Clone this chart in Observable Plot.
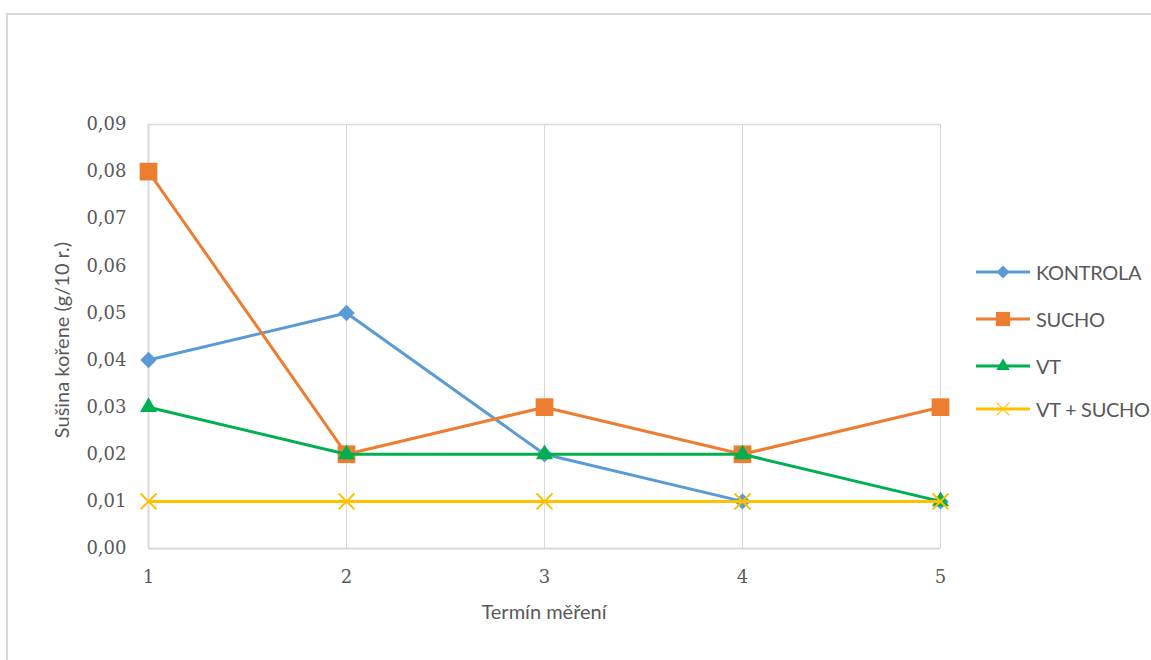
<!DOCTYPE html>
<html>
<head>
<meta charset="utf-8">
<script src="https://cdn.jsdelivr.net/npm/d3@7"></script>
<script src="https://cdn.jsdelivr.net/npm/@observablehq/plot@0.6"></script>
<style>
  html, body { margin: 0; padding: 0; background: #fff; }
  #wrap { position: relative; width: 1151px; height: 660px; overflow: hidden; }
  #border { position: absolute; left: 6px; top: 13px; width: 1200px; height: 700px;
            border-left: 2px solid #d9d9d9; border-top: 2px solid #d9d9d9; }
  #chart { position: absolute; left: 0; top: 0; }
  #legend { position: absolute; left: 976px; top: 258px; font-family: Lato, sans-serif;
            font-size: 20px; color: #595959; letter-spacing: -0.3px; }
  .item { display: flex; align-items: center; height: 28px; position: absolute; left: 0; white-space: nowrap; }
  .item svg { margin-right: 6px; }
</style>
</head>
<body>
<div id="wrap">
  <div id="border"></div>
  <div id="chart"></div>
  <div id="legend"></div>
</div>
<script>
// Measurement terms and dry root mass per series
const terms = [1, 2, 3, 4, 5];
const kontrola = [0.04, 0.05, 0.02, 0.01, 0.01];
const sucho = [0.08, 0.02, 0.03, 0.02, 0.03];
const vt = [0.03, 0.02, 0.02, 0.02, 0.01];
const vtSucho = [0.01, 0.01, 0.01, 0.01, 0.01];
const yTicks = [0, 0.01, 0.02, 0.03, 0.04, 0.05, 0.06, 0.07, 0.08, 0.09];

const seriesNames = ["KONTROLA", "SUCHO", "VT", "VT + SUCHO"];
const seriesValues = [kontrola, sucho, vt, vtSucho];
const colors = ["#5B9BD5", "#ED7D31", "#00B050", "#FFC000"];
const symbols = ["diamond2", "square", "triangle2", "times"];
const radii = [7.4, 10, 8.1, 7.3];

const rows = seriesNames.flatMap((name, i) =>
  terms.map((t, j) => ({series: name, term: t, value: seriesValues[i][j]})));

const fmt = v => d3.format(".2f")(v).replace(".", ",");

const marks = [
  Plot.ruleX(terms, {stroke: "#d9d9d9", strokeWidth: 1}),
  Plot.ruleY([0.09], {stroke: "#d9d9d9", strokeWidth: 1.5}),
  Plot.ruleY([0], {stroke: "#d9d9d9", strokeWidth: 2}),
  Plot.ruleX([1], {stroke: "#d9d9d9", strokeWidth: 2}),
  Plot.axisY({ticks: yTicks, tickFormat: fmt, tickSize: 0, tickPadding: 22,
              fontFamily: "DejaVu Serif", fontSize: 18, fill: "#595959",
              label: null}),
  Plot.axisX({ticks: terms, tickFormat: d => String(d), tickSize: 0, tickPadding: 22,
              fontFamily: "DejaVu Serif", fontSize: 18, fill: "#595959",
              label: null})
];

seriesNames.forEach((name, i) => {
  const d = rows.filter(r => r.series === name);
  marks.push(Plot.line(d, {x: "term", y: "value", stroke: colors[i], strokeWidth: 3}));
  if (symbols[i] === "times") {
    marks.push(Plot.dot(d, {x: "term", y: "value", symbol: "times", r: radii[i],
                            stroke: colors[i], strokeWidth: 2}));
  } else {
    marks.push(Plot.dot(d, {x: "term", y: "value", symbol: symbols[i], r: radii[i],
                            fill: colors[i], stroke: null}));
  }
});

const chart = Plot.plot({
  width: 1151,
  height: 660,
  marginLeft: 148,
  marginRight: 211,
  marginTop: 124,
  marginBottom: 112,
  x: {domain: [1, 5]},
  y: {domain: [0, 0.09]},
  style: {background: "transparent", overflow: "visible"},
  marks
});

// Axis titles
const svg = d3.select(chart);
svg.append("text")
  .attr("x", 544).attr("y", 619)
  .attr("text-anchor", "middle")
  .attr("font-family", "Lato, sans-serif").attr("font-size", 20)
  .attr("fill", "#595959")
  .text("Termín měření");
svg.append("text")
  .attr("transform", "translate(69,340) rotate(-90)")
  .attr("text-anchor", "middle")
  .attr("font-family", "Lato, sans-serif").attr("font-size", 20)
  .attr("fill", "#595959")
  .text("Sušina kořene (g/10 r.)");

document.getElementById("chart").appendChild(chart);

// Legend: line swatch with marker, then series name
const legend = document.getElementById("legend");
const offsets = [0, 47, 94, 137];
seriesNames.forEach((name, i) => {
  const item = document.createElement("div");
  item.className = "item";
  item.style.top = offsets[i] + "px";
  const sym = d3.symbol(
    {diamond2: d3.symbolDiamond2, square: d3.symbolSquare,
     triangle2: d3.symbolTriangle2, times: d3.symbolTimes}[symbols[i]],
    Math.PI * (radii[i] * 0.8) ** 2)();
  const markerAttrs = symbols[i] === "times"
    ? `fill="none" stroke="${colors[i]}" stroke-width="1.2"`
    : `fill="${colors[i]}"`;
  item.innerHTML =
    `<svg width="54" height="28"><line x1="0" x2="54" y1="14" y2="14" stroke="${colors[i]}" stroke-width="3"/>` +
    `<path transform="translate(27,14)" d="${sym}" ${markerAttrs}/></svg><span>${name}</span>`;
  legend.appendChild(item);
});
</script>
</body>
</html>
